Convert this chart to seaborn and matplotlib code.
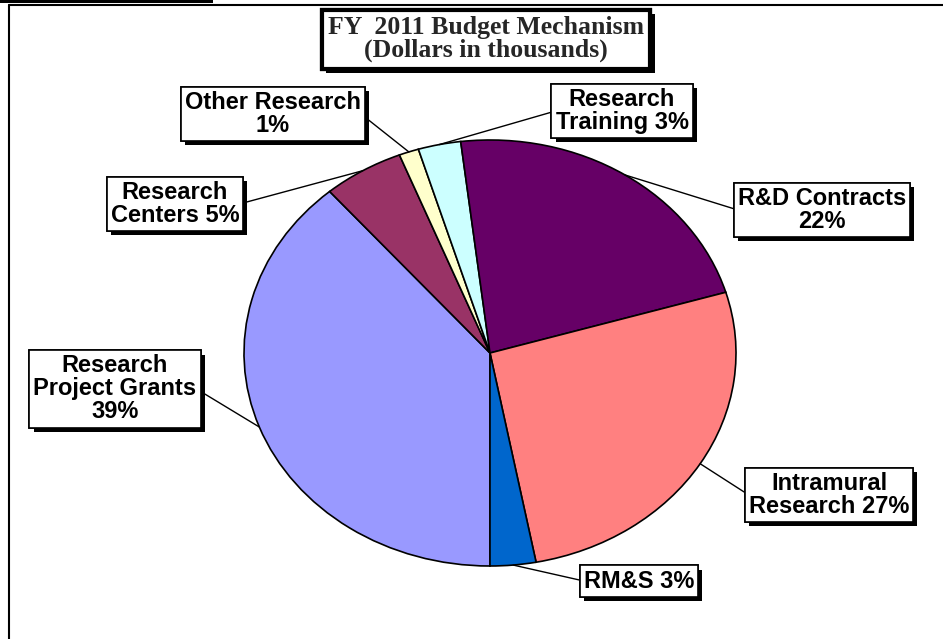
import matplotlib
matplotlib.use("Agg")
import matplotlib.pyplot as plt
import matplotlib.patheffects as pe
from matplotlib.lines import Line2D
from matplotlib.patches import Rectangle
import numpy as np
import seaborn as sns

# ---- data ----
categories = ["Research Project Grants", "Research Centers", "Other Research",
              "Research Training", "R&D Contracts", "Intramural Research", "RM&S"]
values = [38.7, 5.3, 1.3, 2.8, 22.3, 26.6, 3.0]
label_formats = ["Research\nProject Grants\n{:.0f}%", "Research\nCenters {:.0f}%",
                 "Other Research\n{:.0f}%", "Research\nTraining {:.0f}%",
                 "R&D Contracts\n{:.0f}%", "Intramural\nResearch {:.0f}%", "RM&S {:.0f}%"]
colors = ["#9999FF", "#993366", "#FFFFCC", "#CCFFFF", "#660066", "#FF8080", "#0066CC"]
title = "FY  2011 Budget Mechanism\n(Dollars in thousands)"

# ---- layout (figure pixels, measured from top-left) ----
W, H = 943, 639
label_pos = [(115, 389), (175, 204), (273, 114), (622, 111), (822, 210), (829, 495), (639, 581)]
label_side = ["right", "right", "right", "left", "left", "left", "left"]

sns.set_theme(style="white")
plt.rcParams["font.family"] = ["Liberation Sans", "DejaVu Sans"]

fig = plt.figure(figsize=(W / 100, H / 100), dpi=100)
fig.patch.set_facecolor("white")

# pie axes: centre (490,353) px, rx 246, ry 213
rx, ry, cx, cy = 246, 213, 490, 353
aw, ah = 2.5 * rx, 2.5 * ry
ax = fig.add_axes([(cx - aw / 2) / W, (H - cy - ah / 2) / H, aw / W, ah / H])
wedges, _ = ax.pie(values, colors=colors, startangle=270, counterclock=False,
                   wedgeprops=dict(edgecolor="black", linewidth=1.2))
ax.set_aspect("auto")
ax.set_xlim(-1.25, 1.25)
ax.set_ylim(-1.25, 1.25)
ax.axis("off")

shadow = [pe.withSimplePatchShadow(offset=(3, -3), shadow_rgbFace="black", alpha=1.0), pe.Normal()]

for w, v, fmt, (px, py), side in zip(wedges, values, label_formats, label_pos, label_side):
    mid = np.deg2rad((w.theta1 + w.theta2) / 2)
    xy = (np.cos(mid), np.sin(mid))
    t = ax.annotate(fmt.format(v), xy=xy, xycoords="data",
                    xytext=(px, H - py), textcoords="figure pixels",
                    ha="center", va="center", fontsize=17, fontweight="bold",
                    linespacing=1.0, color="black",
                    bbox=dict(boxstyle="square,pad=0.17", fc="white", ec="black", lw=1.2),
                    arrowprops=dict(arrowstyle="-", color="black", lw=1.0,
                                    shrinkA=0, shrinkB=0,
                                    relpos=(1, 0.5) if side == "right" else (0, 0.5)),
                    annotation_clip=False)
    t.get_bbox_patch().set_path_effects(shadow)

# title box
tt = fig.text(486 / W, 1 - 39 / H, title, ha="center", va="center",
              fontsize=18.5, fontweight="bold", family=["Liberation Serif", "DejaVu Serif"],
              linespacing=1.0,
              bbox=dict(boxstyle="square,pad=0.25", fc="white", ec="black", lw=3))
tt.get_bbox_patch().set_path_effects(shadow)

# outer frame
fig.add_artist(Line2D([9 / W, 9 / W], [0, 1 - 5 / H], transform=fig.transFigure, color="black", lw=1.5))
fig.add_artist(Line2D([9 / W, 1], [1 - 5 / H, 1 - 5 / H], transform=fig.transFigure, color="black", lw=1.5))
fig.add_artist(Rectangle((0, 1 - 2.5 / H), 213 / W, 2.5 / H, transform=fig.transFigure,
                         facecolor="black", edgecolor="none"))

fig.savefig("out.png", dpi=100, facecolor="white")
